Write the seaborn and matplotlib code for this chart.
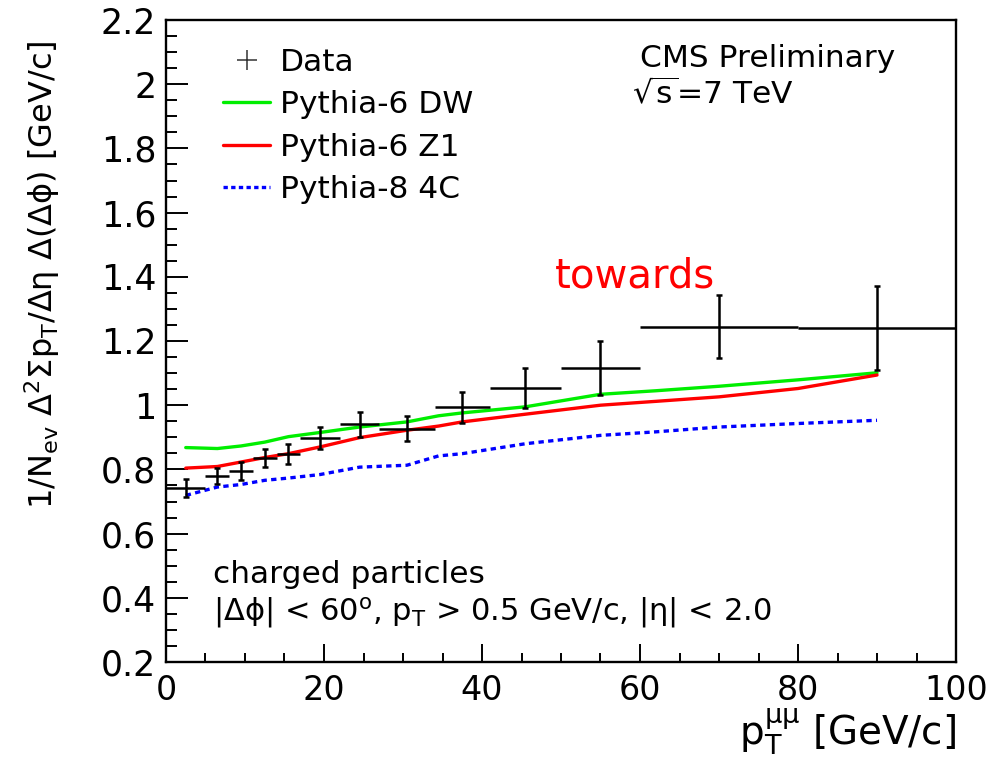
import matplotlib
matplotlib.use('Agg')
import numpy as np
import pandas as pd
import matplotlib.pyplot as plt
import seaborn as sns
from matplotlib.lines import Line2D
from matplotlib.ticker import MultipleLocator, FormatStrFormatter

# measured points: bin centre, bin edges, value and stat. error
pt_center = [2.5, 6.5, 9.5, 12.5, 15.5, 19.5, 24.5, 30.5, 37.5, 45.5, 55, 70, 90]
pt_low = [0, 5, 8, 11, 14, 17, 22, 27, 34, 41, 50, 60, 80]
pt_high = [5, 8, 11, 14, 17, 22, 27, 34, 41, 50, 60, 80, 100]
data_y = [0.742, 0.779, 0.795, 0.836, 0.847, 0.899, 0.941, 0.927, 0.993, 1.054, 1.116, 1.244, 1.241]
data_err = [0.027, 0.025, 0.027, 0.029, 0.031, 0.034, 0.039, 0.039, 0.048, 0.062, 0.083, 0.098, 0.13]

# MC predictions
mc_pt = [2.5, 6.5, 9.5, 12.5, 15.5, 19.5, 24.5, 30.5, 34.5, 37.5, 45.5, 55, 62, 70, 80, 90]
dw = [0.868, 0.865, 0.873, 0.885, 0.902, 0.915, 0.932, 0.948, 0.967, 0.976, 0.995, 1.034, 1.045, 1.059, 1.079, 1.101]
z1 = [0.804, 0.809, 0.823, 0.837, 0.849, 0.870, 0.899, 0.922, 0.935, 0.948, 0.972, 1.000, 1.012, 1.026, 1.052, 1.094]
c4 = [0.719, 0.745, 0.753, 0.766, 0.773, 0.784, 0.807, 0.813, 0.842, 0.849, 0.880, 0.906, 0.917, 0.932, 0.943, 0.953]

sns.set_theme(style='ticks')
plt.rcParams['font.family'] = ['DejaVu Sans']
plt.rcParams['mathtext.fontset'] = 'dejavusans'
plt.rcParams['text.color'] = 'black'
plt.rcParams['axes.labelcolor'] = 'black'

fig = plt.figure(figsize=(9.95, 7.6), dpi=100)
ax = fig.add_axes([166 / 995, 1 - 662 / 760, 790 / 995, 642 / 760])

mc = pd.DataFrame({'pt': mc_pt, 'DW': dw, 'Z1': z1, '4C': c4})
sns.lineplot(data=mc, x='pt', y='DW', color='#00ee00', lw=2.4, ax=ax)
sns.lineplot(data=mc, x='pt', y='Z1', color='#ff0000', lw=2.4, ax=ax)
sns.lineplot(data=mc, x='pt', y='4C', color='#0000ff', lw=2.4, ax=ax,
             linestyle=(0, (1.6, 1.3)))

x = np.array(pt_center)
xerr = [x - np.array(pt_low), np.array(pt_high) - x]
ax.errorbar(x, data_y, xerr=xerr, fmt='none', ecolor='black', elinewidth=1.8, capsize=0)
ax.errorbar(x, data_y, yerr=data_err, fmt='none', ecolor='black', elinewidth=1.8,
            capsize=2.5, capthick=1.8)

ax.set_xlim(0, 100)
ax.set_ylim(0.2, 2.2)
ax.xaxis.set_major_locator(MultipleLocator(20))
ax.xaxis.set_minor_locator(MultipleLocator(5))
ax.yaxis.set_major_locator(MultipleLocator(0.2))
ax.yaxis.set_minor_locator(MultipleLocator(0.05))
ax.yaxis.set_major_formatter(FormatStrFormatter('%g'))
ax.tick_params(axis='both', which='both', direction='in', width=1.4, colors='black',
               top=False, right=False)
ax.tick_params(axis='x', which='major', length=13, labelsize=24, pad=9)
ax.tick_params(axis='x', which='minor', length=6.5)
ax.tick_params(axis='y', which='major', length=16, labelsize=25, pad=7)
ax.tick_params(axis='y', which='minor', length=8)
for s in ax.spines.values():
    s.set_linewidth(1.7)
    s.set_color('black')

ax.set_ylabel('')
ax.set_xlabel('p$_{\\rm T}^{\\rm μμ}$ [GeV/c]', fontsize=28, loc='right', labelpad=0)
fig.text(0.042, 0.947,
         '1/N$_{\\rm ev}$ Δ$^{2}$Σp$_{\\rm T}$/Δη Δ(Δϕ) [GeV/c]',
         rotation=90, ha='center', va='top', fontsize=23)

handles = [Line2D([], [], ls='none', marker='+', ms=15, mew=1.1, color='#333333'),
           Line2D([], [], color='#00ee00', lw=2.4),
           Line2D([], [], color='#ff0000', lw=2.4),
           Line2D([], [], color='#0000ff', lw=2.4, ls=(0, (1.3, 1.0)))]
ax.legend(handles, ['Data', 'Pythia-6 DW', 'Pythia-6 Z1', 'Pythia-8 4C'],
          loc='upper left', bbox_to_anchor=(0.045, 0.99), frameon=False,
          fontsize=22.5, handlelength=1.5, handletextpad=0.3, labelspacing=0.42,
          borderpad=0.2)

ax.text(60, 2.053, 'CMS Preliminary', fontsize=22.5, va='baseline')
ax.text(59, 1.938, r'$\sqrt{\rm s}$=7 TeV', fontsize=22.5, va='baseline')
ax.text(49.2, 1.368, 'towards', fontsize=29, color='#ff0000', va='baseline')
ax.text(6, 0.445, 'charged particles', fontsize=22.5, va='baseline')
ax.text(6, 0.33, '|Δϕ| < 60$^{\\rm o}$, p$_{\\rm T}$ > 0.5 GeV/c, |η| < 2.0',
        fontsize=22, va='baseline')

fig.savefig('out.png', dpi=100)
